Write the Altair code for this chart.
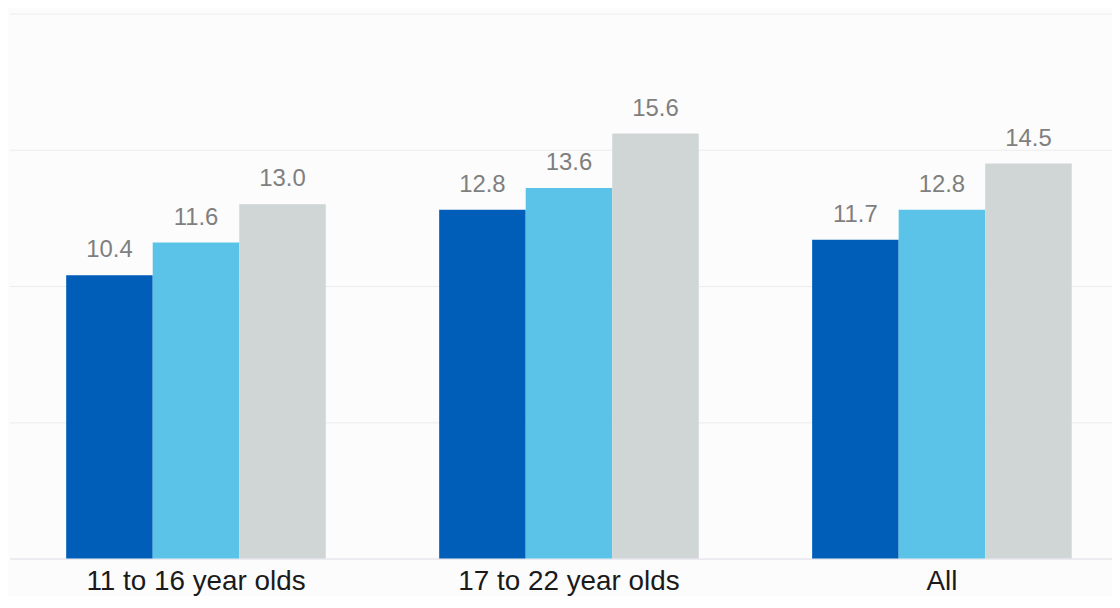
import altair as alt
import pandas as pd

categories = ["11 to 16 year olds", "17 to 22 year olds", "All"]
series = ["Series 1", "Series 2", "Series 3"]
values_s1 = [10.4, 12.8, 11.7]
values_s2 = [11.6, 13.6, 12.8]
values_s3 = [13.0, 15.6, 14.5]
colors = ["#005EB8", "#5BC2E8", "#D0D5D6"]
y_ticks = [0, 5, 10, 15, 20]

rows = []
for s, vals in zip(series, [values_s1, values_s2, values_s3]):
    for c, v in zip(categories, vals):
        rows.append({"category": c, "series": s, "value": v})
df = pd.DataFrame(rows)

x_enc = alt.X(
    "category:N",
    sort=categories,
    scale=alt.Scale(range=[-0.5, 1124.5], paddingInner=0.304, paddingOuter=0.152),
    axis=alt.Axis(
        title=None, ticks=False, labelAngle=0, labelFontSize=28, labelLimit=500,
        labelFont="Liberation Sans", labelColor="#1a1a1a", labelPadding=9,
        domain=True, domainColor="#e4e4ee", domainWidth=1, grid=False,
    ),
)
xoff = alt.XOffset("series:N", sort=series, scale=alt.Scale(paddingInner=0, paddingOuter=0))
y_enc = alt.Y(
    "value:Q",
    scale=alt.Scale(domain=[0, 20], nice=False),
    axis=alt.Axis(
        title=None, labels=False, ticks=False, domain=False, values=y_ticks,
        grid=True, gridColor="#ececec", gridWidth=1,
    ),
)

bars = alt.Chart(df).mark_bar().encode(
    x=x_enc,
    xOffset=xoff,
    y=y_enc,
    color=alt.Color("series:N", sort=series,
                    scale=alt.Scale(domain=series, range=colors), legend=None),
)

labels = alt.Chart(df).mark_text(
    font="Liberation Sans", fontSize=24, color="#7f7f7f",
    baseline="alphabetic", align="center", dy=-18,
).encode(
    x=x_enc,
    xOffset=xoff,
    y=y_enc,
    text=alt.Text("value:Q", format=".1f"),
)

chart = alt.layer(bars, labels).properties(
    width=1108,
    height=548,
    padding={"left": 2, "top": 4, "right": 0, "bottom": 36},
    autosize=alt.AutoSizeParams(type="none"),
    background="#fcfcfc",
).configure_view(stroke=None)

chart.save("out.html", embed_options={"renderer": "svg", "actions": False})
